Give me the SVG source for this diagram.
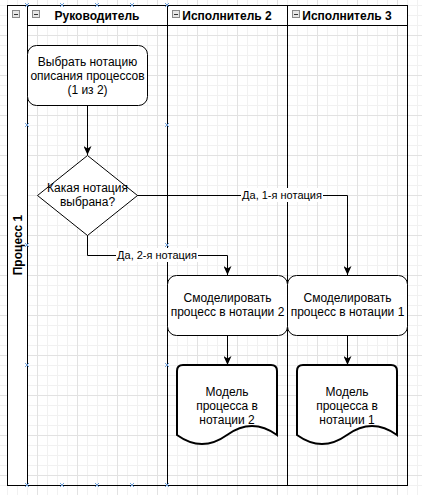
<svg xmlns="http://www.w3.org/2000/svg" width="422" height="495" viewBox="0 0 422 495">
<defs>
<pattern id="grid" width="40" height="40" patternUnits="userSpaceOnUse" x="-3" y="-5">
<path d="M10.5,0V40M20.5,0V40M30.5,0V40M0,10.5H40M0,20.5H40M0,30.5H40" stroke="#f1f1f1" stroke-width="1" fill="none"/>
<path d="M0.5,0V40M0,0.5H40" stroke="#e2e2e2" stroke-width="1" fill="none"/>
</pattern>
<marker id="arr" viewBox="0 0 9 8" refX="9" refY="4" markerWidth="9" markerHeight="8" markerUnits="userSpaceOnUse" orient="auto">
<path d="M0,0L9,4L0,8L2.5,4Z" fill="#000"/>
</marker>
<style>
.line{fill:none;stroke:#000;stroke-width:1}
.hdr{fill:#fff;stroke:#000;stroke-width:1}
.t{font-family:"Liberation Sans",Arial,sans-serif;font-size:12px;fill:#000;text-anchor:middle}
.b{font-weight:bold}
.lbl{font-size:11px}
.box{fill:#fff;stroke:#000;stroke-width:1}
.doc{fill:#fff;stroke:#000;stroke-width:2}
.edge{fill:none;stroke:#000;stroke-width:1;marker-end:url(#arr)}
.lblbg{fill:#fff}
.mk{fill:none;stroke:#6f9fd8;stroke-width:1}
.minus{fill:#e6e6e6;stroke:#8a8a8a;stroke-width:1}
.minusl{stroke:#333;stroke-width:1}
</style>
</defs>
<rect width="422" height="495" fill="#fff"/>
<rect width="422" height="495" fill="url(#grid)"/>

<g id="pool">
<rect class="hdr" x="7.5" y="5.5" width="20" height="480"/>
<rect class="line" x="7.5" y="5.5" width="400" height="480"/>
<rect class="minus" x="12.5" y="10.5" width="7" height="7"/>
<path class="minusl" d="M14,14.5H18"/>
<text class="t b" transform="translate(21.5,245) rotate(-90)">Процесс 1</text>
</g>

<g id="lane-rukovoditel">
<rect class="hdr" x="27.5" y="5.5" width="140" height="20"/>
<rect class="line" x="27.5" y="5.5" width="140" height="480"/>
<rect class="minus" x="32.5" y="10.5" width="7" height="7"/>
<path class="minusl" d="M34,14.5H38"/>
<text class="t b" x="97" y="20">Руководитель</text>
</g>

<g id="lane-ispolnitel2">
<rect class="hdr" x="167.5" y="5.5" width="120" height="20"/>
<rect class="line" x="167.5" y="5.5" width="120" height="480"/>
<rect class="minus" x="172.5" y="10.5" width="7" height="7"/>
<path class="minusl" d="M174,14.5H178"/>
<text class="t b" x="227" y="20">Исполнитель 2</text>
</g>

<g id="lane-ispolnitel3">
<rect class="hdr" x="287.5" y="5.5" width="120" height="20"/>
<rect class="line" x="287.5" y="5.5" width="120" height="480"/>
<rect class="minus" x="292.5" y="10.5" width="7" height="7"/>
<path class="minusl" d="M294,14.5H298"/>
<text class="t b" x="347" y="20">Исполнитель 3</text>
</g>

<g id="connectors">
<path class="edge" d="M87.5,105V155"/>
<path class="edge" d="M137,195.5H347.5V275"/>
<path class="edge" d="M87.5,235V255.5H227.5V275"/>
<path class="edge" d="M227.5,335V365"/>
<path class="edge" d="M347.5,335V365"/>
<rect class="lblbg" x="241" y="188" width="82" height="14"/>
<text class="t lbl" x="282" y="199">Да, 1-я нотация</text>
<rect class="lblbg" x="116" y="248" width="82" height="14"/>
<text class="t lbl" x="157" y="259">Да, 2-я нотация</text>
</g>

<g id="node-choose">
<rect class="box" x="27.5" y="45.5" width="120" height="60" rx="9" ry="9"/>
<text class="t" x="87.5" y="65.5">Выбрать нотацию</text>
<text class="t" x="87.5" y="79.5">описания процессов</text>
<text class="t" x="87.5" y="93.5">(1 из 2)</text>
</g>

<g id="node-decision">
<path class="box" d="M87.5,155.5L137.5,195.5L87.5,235.5L37.5,195.5Z"/>
<text class="t" x="87.5" y="192">Какая нотация</text>
<text class="t" x="87.5" y="206">выбрана?</text>
</g>

<g id="node-model2">
<rect class="box" x="167.5" y="275.5" width="120" height="60" rx="9" ry="9"/>
<text class="t" x="227.5" y="302">Смоделировать</text>
<text class="t" x="227.5" y="316">процесс в нотации 2</text>
</g>

<g id="node-model1">
<rect class="box" x="287.5" y="275.5" width="120" height="60" rx="9" ry="9"/>
<text class="t" x="347.5" y="302">Смоделировать</text>
<text class="t" x="347.5" y="316">процесс в нотации 1</text>
</g>

<g id="node-doc2">
<path class="doc" d="M177,371Q177,365 183,365L271,365Q277,365 277,371L277,435Q252,417 227,435Q202,453 177,435Z"/>
<text class="t" x="227" y="395.5">Модель</text>
<text class="t" x="227" y="409.5">процесса в</text>
<text class="t" x="227" y="423.5">нотации 2</text>
</g>

<g id="node-doc1">
<path class="doc" d="M297,371Q297,365 303,365L391,365Q397,365 397,371L397,435Q372,417 347,435Q322,453 297,435Z"/>
<text class="t" x="347" y="395.5">Модель</text>
<text class="t" x="347" y="409.5">процесса в</text>
<text class="t" x="347" y="423.5">нотации 1</text>
</g>

<g id="connection-points">
<path class="mk" d="M25,3L29,7M25,7L29,3M60,3L64,7M60,7L64,3M95,3L99,7M95,7L99,3M130,3L134,7M130,7L134,3M165,3L169,7M165,7L169,3M25,483L29,487M25,487L29,483M60,483L64,487M60,487L64,483M95,483L99,487M95,487L99,483M130,483L134,487M130,487L134,483M165,483L169,487M165,487L169,483M25,123L29,127M25,127L29,123M25,243L29,247M25,247L29,243M25,363L29,367M25,367L29,363M165,123L169,127M165,127L169,123M165,243L169,247M165,247L169,243M165,363L169,367M165,367L169,363"/>
</g>
</svg>
